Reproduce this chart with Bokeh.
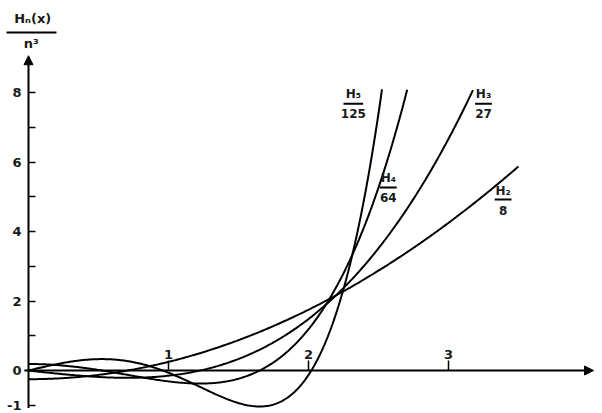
import numpy as np
from bokeh.plotting import figure
from bokeh.models import LinearAxis, FixedTicker, Arrow, NormalHead, ColumnDataSource
from bokeh.core.properties import value
from bokeh.embed import file_html
from bokeh.resources import INLINE

# Hermite polynomial coefficients (physicists'), highest power first
H2_coef = [4, 0, -2]
H3_coef = [8, 0, -12, 0]
H4_coef = [16, 0, -48, 0, 12]
H5_coef = [32, 0, -160, 0, 120, 0]
norms = [8, 27, 64, 125]          # n^3
x_end = [3.5, 3.175, 2.705, 2.525]  # where each drawn curve stops
names = ["H₂", "H₃", "H₄", "H₅"]
denoms = ["8", "27", "64", "125"]

x_ticks = [1, 2, 3]
x_tick_labels = {1: "1", 2: "2", 3: "3"}
y_ticks = [-1, 0, 2, 4, 6, 8]
y_minor = [1, 3, 5, 7]

FONT = "DejaVu Sans"
TXT = "#1a1a1a"

p = figure(width=602, height=413, x_range=(-0.2, 4.1), y_range=(-1.237, 10.65),
           output_backend="svg", toolbar_location=None, min_border=0,
           x_axis_location=None, y_axis_location=None)
p.grid.visible = False
p.outline_line_color = None
p.background_fill_color = "white"

# axes crossing at zero
xax = LinearAxis(fixed_location=0, ticker=FixedTicker(ticks=x_ticks),
                 major_tick_out=10, major_tick_in=0, minor_tick_out=0, minor_tick_in=0,
                 axis_line_color=None, major_tick_line_width=1.5,
                 major_label_standoff=2, major_label_text_font=FONT,
                 major_label_text_font_style="bold", major_label_text_font_size="13px",
                 major_label_text_color=TXT)
xax.major_label_overrides = x_tick_labels
p.add_layout(xax, "above")

yax = LinearAxis(fixed_location=0, ticker=FixedTicker(ticks=y_ticks, minor_ticks=y_minor),
                 major_tick_out=0, major_tick_in=7, minor_tick_out=0, minor_tick_in=7,
                 axis_line_color=None, major_tick_line_width=1.5, minor_tick_line_width=1.5,
                 major_label_standoff=7, major_label_text_font=FONT,
                 major_label_text_font_style="bold", major_label_text_font_size="13px",
                 major_label_text_color=TXT)
yax.major_label_overrides = {-1: "-1"}
p.add_layout(yax, "left")

# axis lines with arrows
p.add_layout(Arrow(end=NormalHead(size=9, fill_color="black", line_color="black"),
                   x_start=-0.03, y_start=0, x_end=4.036, y_end=0, line_width=2))
p.add_layout(Arrow(end=NormalHead(size=9, fill_color="black", line_color="black"),
                   x_start=0, y_start=-1.08, x_end=0, y_end=9.06, line_width=2))

# curves
for coef, nrm, xe in zip([H2_coef, H3_coef, H4_coef, H5_coef], norms, x_end):
    xs = np.linspace(0, xe, 300)
    ys = np.polyval(coef, xs) / nrm
    p.line(xs, ys, line_color="black", line_width=2)

# fraction labels for curves
lab_x = [3.39, 3.25, 2.57, 2.32]
lab_num_y = [5.18, 7.97, 5.53, 7.97]
lab_bar_y = [4.92, 7.68, 5.27, 7.68]
lab_den_y = [4.60, 7.40, 4.98, 7.40]
bar_half = [0.06, 0.06, 0.06, 0.07]

src = ColumnDataSource(dict(x=lab_x, ny=lab_num_y, dy=lab_den_y, num=names, den=denoms,
                            bx0=[a - b for a, b in zip(lab_x, bar_half)],
                            bx1=[a + b for a, b in zip(lab_x, bar_half)], by=lab_bar_y))
p.text(x="x", y="ny", text="num", source=src, text_align="center", text_baseline="middle",
       text_font=value(FONT), text_font_style="bold", text_font_size="12px", text_color=TXT)
p.text(x="x", y="dy", text="den", source=src, text_align="center", text_baseline="middle",
       text_font=value(FONT), text_font_style="bold", text_font_size="12px", text_color=TXT)
p.segment(x0="bx0", y0="by", x1="bx1", y1="by", source=src, line_color="black", line_width=2)

# y-axis title as a fraction
p.text(x=[0.03], y=[10.13], text=["Hₙ(x)"], text_align="center", text_baseline="middle",
       text_font=value(FONT), text_font_style="bold", text_font_size="13px", text_color=TXT)
p.text(x=[0.02], y=[9.41], text=["n³"], text_align="center", text_baseline="middle",
       text_font=value(FONT), text_font_style="bold", text_font_size="13px", text_color=TXT)
p.segment(x0=[-0.157], y0=[9.73], x1=[0.2], y1=[9.73], line_color="black", line_width=2)

open("out.html", "w").write(file_html(p, INLINE))
